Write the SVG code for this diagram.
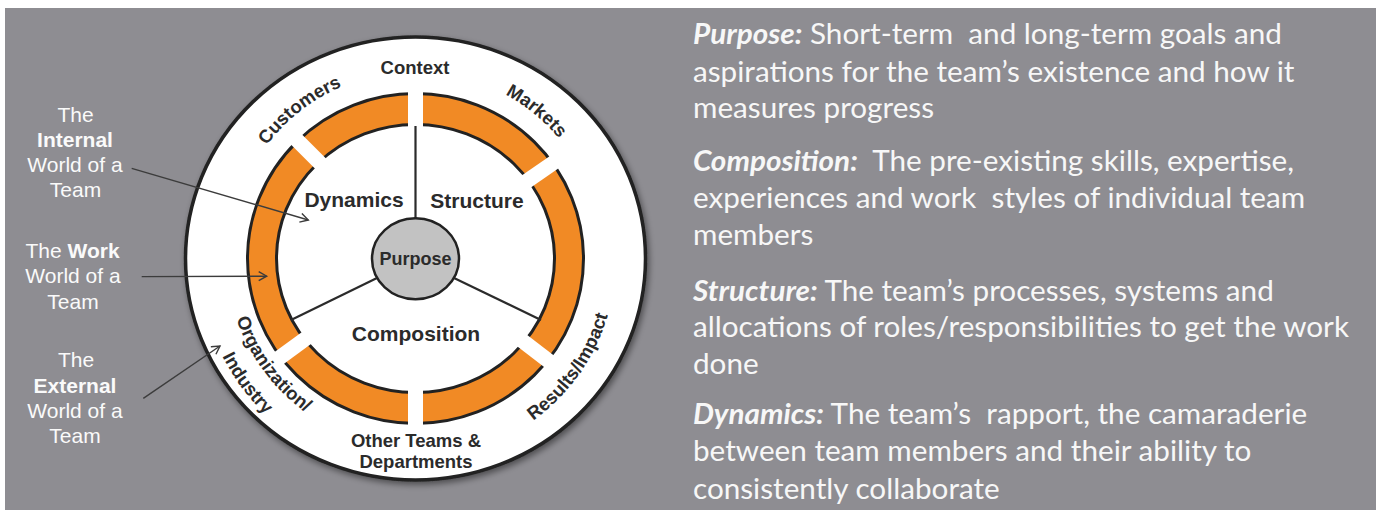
<svg xmlns="http://www.w3.org/2000/svg" width="1376" height="510" viewBox="0 0 1376 510">
<defs>
<style>
.lbl{font-family:"Liberation Sans",Arial,sans-serif;font-size:21px;fill:#fafafa;text-anchor:middle}
.b{font-weight:bold}
.wh{font-family:"Liberation Sans",Arial,sans-serif;font-weight:bold;fill:#2b2b2b}
.outer{font-size:18.5px}
.inner{font-size:21px;text-anchor:middle}
.desc{font-family:Lato,"Open Sans",sans-serif;font-size:28px;fill:#f7f7f7;white-space:pre}
.hd{font-weight:bold;font-style:italic}
.arr{stroke:#3c3c3c;stroke-width:1.4;fill:none;marker-end:url(#ah)}
.gap{stroke:#ffffff;stroke-width:15}
.spoke{stroke:#2b2b2b;stroke-width:2.2}
</style>
<marker id="ah" markerUnits="userSpaceOnUse" markerWidth="12" markerHeight="12" refX="9" refY="5" orient="auto">
<path d="M1,0.5 L9,5 L1,9.5" fill="none" stroke="#3c3c3c" stroke-width="1.4"/>
</marker>
<filter id="sh" x="-10%" y="-10%" width="120%" height="125%">
<feGaussianBlur in="SourceAlpha" stdDeviation="3"/>
<feOffset dx="2" dy="3" result="o"/>
<feComponentTransfer><feFuncA type="linear" slope="0.45"/></feComponentTransfer>
<feMerge><feMergeNode/><feMergeNode in="SourceGraphic"/></feMerge>
</filter>
<path id="pCust" d="M232.6,219.6 A187,187 0 0 1 422.0,71.6"/>
<path id="pMark" d="M413.5,71.5 A187,187 0 0 1 599.3,224.1"/>
<path id="pRes" d="M466.7,452.3 A200.5,200.5 0 0 0 615.3,241.7"/>
<path id="pOrg" d="M228.6,230.6 A189,189 0 0 0 387.6,445.4"/>
<path id="pInd" d="M201.4,226.5 A216.5,216.5 0 0 0 383.5,472.6"/>
</defs>
<rect x="5" y="8" width="1371" height="502" fill="#8e8d92"/>

<g id="wheel">
<ellipse id="outer-circle" cx="415.5" cy="258.5" rx="230" ry="221.5" fill="#ffffff" stroke="#222222" stroke-width="3.5" filter="url(#sh)"/>
<path id="orange-ring" d="M247.5,258.5 a168,165 0 1 0 336,0 a168,165 0 1 0 -336,0 Z M276.5,258.5 a139,134 0 1 0 278,0 a139,134 0 1 0 -278,0 Z" fill="#f18a25" fill-rule="evenodd" stroke="#222222" stroke-width="3"/>
<g id="gaps">
<line class="gap" x1="415.5" y1="138.5" x2="415.5" y2="78.5"/>
<line class="gap" x1="514.0" y1="190.0" x2="563.3" y2="155.8"/>
<line class="gap" x1="330.7" y1="173.7" x2="288.2" y2="131.2"/>
<line class="gap" x1="318.5" y1="329.2" x2="270.1" y2="364.6"/>
<line class="gap" x1="415.5" y1="378.5" x2="415.5" y2="438.5"/>
<line class="gap" x1="510.6" y1="331.7" x2="558.1" y2="368.3"/>
</g>
<g id="spokes">
<line class="spoke" x1="415.5" y1="126" x2="415.5" y2="219"/>
<line class="spoke" x1="291" y1="320" x2="377" y2="278"/>
<line class="spoke" x1="541" y1="320" x2="454" y2="278"/>
</g>
<g id="purpose">
<ellipse cx="415.5" cy="258.7" rx="43.5" ry="40.5" fill="#c2c2c2" stroke="#222222" stroke-width="2.5"/>
<text class="wh" x="415.5" y="265" font-size="18" text-anchor="middle">Purpose</text>
</g>
<g id="dynamics"><text class="wh inner" x="354" y="207">Dynamics</text></g>
<g id="structure"><text class="wh inner" x="477" y="208">Structure</text></g>
<g id="composition"><text class="wh inner" x="416" y="341">Composition</text></g>
<g id="context"><text class="wh outer" x="415" y="74" text-anchor="middle">Context</text></g>
<g id="customers"><text class="wh outer"><textPath href="#pCust" startOffset="50%" text-anchor="middle">Customers</textPath></text></g>
<g id="markets"><text class="wh outer"><textPath href="#pMark" startOffset="50%" text-anchor="middle">Markets</textPath></text></g>
<g id="results"><text class="wh outer"><textPath href="#pRes" startOffset="50%" text-anchor="middle">Results/Impact</textPath></text></g>
<g id="organization"><text class="wh outer"><textPath href="#pOrg" startOffset="50%" text-anchor="middle">Organization/</textPath></text>
<text class="wh outer"><textPath href="#pInd" startOffset="50%" text-anchor="middle">Industry</textPath></text></g>
<g id="other-teams"><text class="wh outer" text-anchor="middle"><tspan x="416" y="447">Other Teams &amp;</tspan><tspan x="416" y="468">Departments</tspan></text></g>
</g>

<g id="internal-world">
<text class="lbl"><tspan x="75.5" y="122">The</tspan><tspan x="75" y="147" class="b">Internal</tspan><tspan x="75" y="172">World of a</tspan><tspan x="75.5" y="197">Team</tspan></text>
</g>
<g id="work-world">
<text class="lbl"><tspan x="72.5" y="258">The <tspan class="b">Work</tspan></tspan><tspan x="73" y="283">World of a</tspan><tspan x="73" y="309">Team</tspan></text>
</g>
<g id="external-world">
<text class="lbl"><tspan x="76" y="367">The</tspan><tspan x="75" y="393" class="b">External</tspan><tspan x="75" y="418">World of a</tspan><tspan x="75" y="443">Team</tspan></text>
</g>

<g id="connectors">
<line class="arr" x1="131.7" y1="168.3" x2="308.3" y2="220"/>
<line class="arr" x1="141.7" y1="276.6" x2="266.7" y2="276.2"/>
<line class="arr" x1="143.3" y1="398.3" x2="220" y2="346"/>
</g>

<g id="descriptions" transform="translate(693,0) scale(1.06,1) translate(-693,0)">
<text class="desc" x="693" y="44"><tspan class="hd">Purpose:</tspan> Short-term  and long-term goals and</text>
<text class="desc" x="693" y="82">aspirations for the team’s existence and how it</text>
<text class="desc" x="693" y="118">measures progress</text>
<text class="desc" x="693" y="171"><tspan class="hd">Composition:</tspan>  The pre-existing skills, expertise,</text>
<text class="desc" x="693" y="208">experiences and work  styles of individual team</text>
<text class="desc" x="693" y="245">members</text>
<text class="desc" x="693" y="301"><tspan class="hd">Structure:</tspan> The team’s processes, systems and</text>
<text class="desc" x="693" y="337">allocations of roles/responsibilities to get the work</text>
<text class="desc" x="693" y="374">done</text>
<text class="desc" x="693" y="424"><tspan class="hd">Dynamics:</tspan> The team’s  rapport, the camaraderie</text>
<text class="desc" x="693" y="461">between team members and their ability to</text>
<text class="desc" x="693" y="499">consistently collaborate</text>
</g>
</svg>
